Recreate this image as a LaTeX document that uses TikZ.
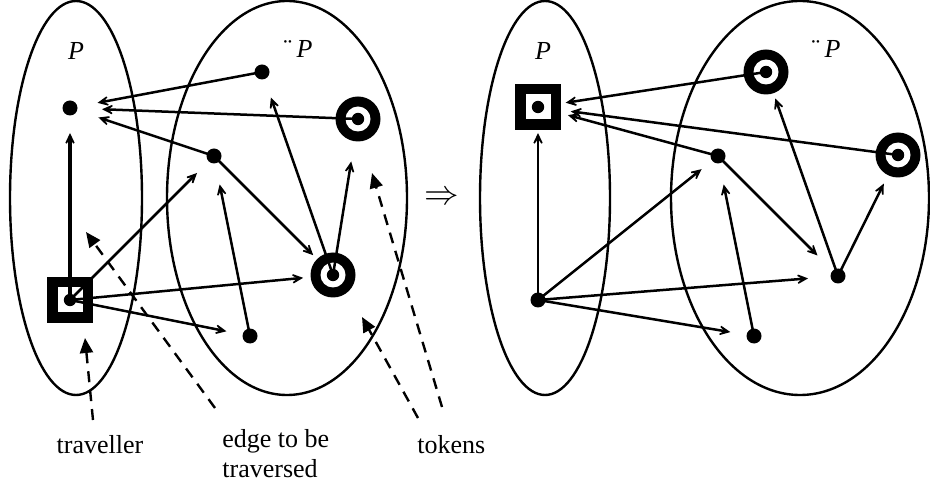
\documentclass[tikz,border=0pt]{standalone}
\usepackage{fontspec}
\setmainfont{Liberation Serif}
\usetikzlibrary{arrows.meta}
\begin{document}
\begin{tikzpicture}[x=0.5pt,y=-0.5pt,
  setline/.style={line width=1.2pt},
  vdot/.style={circle,fill=black,inner sep=0pt,minimum size=7.5pt},
  token/.style={circle,fill=black,inner sep=0pt,minimum size=22.5pt,
    path picture={\fill[white] (path picture bounding box.center) circle (6.25pt);
                  \fill[black] (path picture bounding box.center) circle (3.1pt);}},
  trav/.style={rectangle,fill=black,inner sep=0pt,minimum size=23pt,
    path picture={\fill[white] ([shift={(-6.25pt,-6.25pt)}]path picture bounding box.center) rectangle ([shift={(6.25pt,6.25pt)}]path picture bounding box.center);
                  \fill[black] (path picture bounding box.center) circle (3.1pt);}},
  edgearr/.style={line width=1.25pt,-{Stealth[length=8.5pt,width=8pt,inset=5.5pt]}},
  thickarr/.style={line width=2.1pt,-{Stealth[length=8.5pt,width=8pt,inset=5.5pt]}},
  hint/.style={line width=1.2pt,dash pattern=on 5.5pt off 4pt,-{Triangle[length=7.5pt,width=6.5pt]}},
  lbl/.style={font=\fontsize{13pt}{15pt}\selectfont,inner sep=0pt},
  setname/.style={font=\fontsize{13pt}{15pt}\selectfont\itshape,inner sep=0pt},
]
\useasboundingbox (0,0) rectangle (930,480);

% ---------- left panel ----------
\draw[setline] (76,198) ellipse [x radius=33pt, y radius=98.5pt];
\draw[setline] (287,198) ellipse [x radius=60pt, y radius=98.5pt];
\node[setname,anchor=base] (lP) at (76,60) {P};
\node[setname,anchor=base east] (lPP) at (313,58) {¨\hspace{0.25em}P};

\node[vdot]  (a) at (70,108) {};
\node[vdot]  (b) at (262,72) {};
\node[token] (c) at (358,119) {};
\node[vdot]  (d) at (214,156) {};
\node[token] (e) at (333,275) {};
\node[vdot]  (f) at (250,336) {};
\node[trav]  (t) at (70,300) {};

\draw[edgearr, shorten >=14pt]   (b.center) -- (a.center);
\draw[edgearr, shorten >=16pt]   (c.center) -- (a.center);
\draw[edgearr, shorten >=15pt]   (d.center) -- (a.center);
\draw[thickarr, shorten >=12.5pt] (t.center) -- (a.center);
\draw[edgearr, shorten >=12pt]   (t.center) -- (d.center);
\draw[edgearr, shorten >=15pt]   (t.center) -- (e.center);
\draw[edgearr, shorten >=12pt]   (t.center) -- (f.center);
\draw[edgearr, shorten >=14.5pt] (f.center) -- (d.center);
\draw[edgearr, shorten >=14pt]   (d.center) -- (e.center);
\draw[edgearr, shorten >=13.5pt] (e.center) -- (b.center);
\draw[edgearr, shorten >=21.5pt] (e.center) -- (c.center);

% hints
\coordinate (h1s) at (93,420);  \coordinate (h1e) at (85,338);
\coordinate (h2s) at (215,408); \coordinate (h2e) at (86,232);
\coordinate (h3s) at (418,418); \coordinate (h3e) at (362,317);
\coordinate (h4s) at (442,407); \coordinate (h4e) at (372,173);
\draw[hint] (h1s) -- (h1e);
\draw[hint] (h2s) -- (h2e);
\draw[hint] (h3s) -- (h3e);
\draw[hint] (h4s) -- (h4e);

\node[lbl,anchor=base] (ltrav) at (100,453) {traveller};
\node[lbl,anchor=north west,align=left] (ledge) at (222,429) {edge to be\\traversed};
\node[lbl,anchor=base west] (ltok) at (417,453) {tokens};

% implication
\node[inner sep=0pt,font=\fontsize{18pt}{20pt}\selectfont] (imp) at (442,198) {$\Rightarrow$};

% ---------- right panel ----------
\draw[setline] (545,198) ellipse [x radius=32.5pt, y radius=98.5pt];
\draw[setline] (800,198) ellipse [x radius=64.5pt, y radius=98.5pt];
\node[setname,anchor=base] (rP) at (543,60) {P};
\node[setname,anchor=base east] (rPP) at (841,58) {¨\hspace{0.25em}P};

\node[trav]  (a2) at (538,107) {};
\node[token] (b2) at (766,72) {};
\node[token] (c2) at (898,155) {};
\node[vdot]  (d2) at (718,156) {};
\node[vdot]  (e2) at (838,276) {};
\node[vdot]  (f2) at (754,336) {};
\node[vdot]  (t2) at (538,300) {};

\draw[edgearr, shorten >=14pt]   (b2.center) -- (a2.center);
\draw[edgearr, shorten >=16.5pt] (c2.center) -- (a2.center);
\draw[edgearr, shorten >=15.5pt] (d2.center) -- (a2.center);
\draw[edgearr, shorten >=13pt]   (t2.center) -- (a2.center);
\draw[edgearr, shorten >=10.5pt] (t2.center) -- (d2.center);
\draw[edgearr, shorten >=15pt]   (t2.center) -- (e2.center);
\draw[edgearr, shorten >=12pt]   (t2.center) -- (f2.center);
\draw[edgearr, shorten >=14.5pt] (f2.center) -- (d2.center);
\draw[edgearr, shorten >=14.5pt] (d2.center) -- (e2.center);
\draw[edgearr, shorten >=14pt]   (e2.center) -- (b2.center);
\draw[edgearr, shorten >=16pt]   (e2.center) -- (c2.center);
\end{tikzpicture}
\end{document}
